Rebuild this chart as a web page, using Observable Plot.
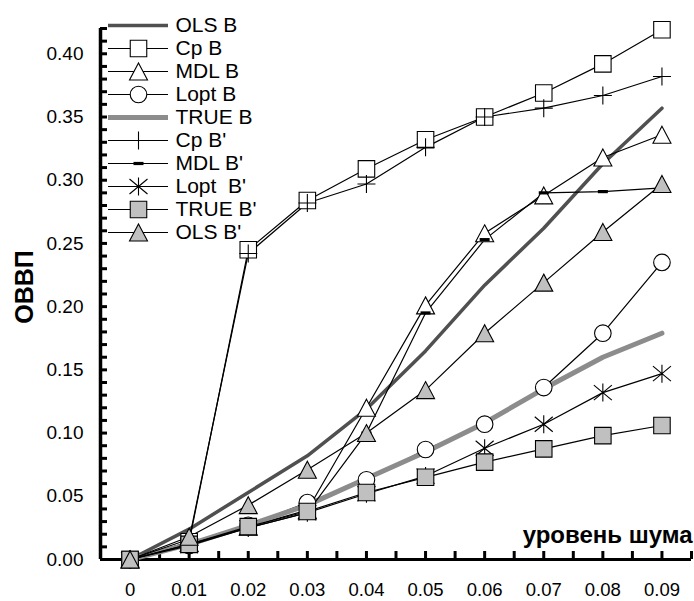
<!DOCTYPE html>
<html><head><meta charset="utf-8">
<script src="https://cdn.jsdelivr.net/npm/d3@7"></script>
<script src="https://cdn.jsdelivr.net/npm/@observablehq/plot@0.6"></script>
<style>
body{margin:0;background:#fff;}
#wrap{position:relative;width:694px;height:601px;}
#wrap svg{position:absolute;left:0;top:0;}
</style></head><body><div id="wrap"></div>
<script>
// ---- data ----
const noiseLevel = [0, 0.01, 0.02, 0.03, 0.04, 0.05, 0.06, 0.07, 0.08, 0.09];
const olsB   = [0, 0.024, 0.053, 0.082, 0.119, 0.165, 0.217, 0.262, 0.313, 0.357];
const cpB    = [0, 0.014, 0.245, 0.284, 0.309, 0.332, 0.350, 0.369, 0.392, 0.419];
const mdlB   = [0, 0.013, 0.026, 0.039, 0.120, 0.201, 0.258, 0.288, 0.318, 0.336];
const loptB  = [0, 0.011, 0.027, 0.045, 0.063, 0.087, 0.107, 0.136, 0.179, 0.235];
const trueB  = [0, 0.012, 0.027, 0.043, 0.064, 0.085, 0.108, 0.135, 0.160, 0.179];
const cpB2   = [0, 0.016, 0.242, 0.282, 0.297, 0.326, 0.350, 0.357, 0.367, 0.382];
const mdlB2  = [0, 0.012, 0.025, 0.037, 0.100, 0.195, 0.253, 0.290, 0.291, 0.294];
const loptB2 = [0, 0.011, 0.025, 0.037, 0.052, 0.066, 0.088, 0.107, 0.132, 0.147];
const trueB2 = [0, 0.012, 0.026, 0.038, 0.053, 0.065, 0.077, 0.0875, 0.098, 0.106];
const olsB2  = [0, 0.018, 0.043, 0.071, 0.100, 0.134, 0.179, 0.219, 0.259, 0.297];

const seriesNames = ["OLS B", "Cp B", "MDL B", "Lopt B", "TRUE B", "Cp B'", "MDL B'", "Lopt  B'", "TRUE B'", "OLS B'"];
const xLabelTicks = [0, 0.01, 0.02, 0.03, 0.04, 0.05, 0.06, 0.07, 0.08, 0.09];
const xMinorTicks = [0.005, 0.01, 0.015, 0.02, 0.025, 0.03, 0.035, 0.04, 0.045, 0.05, 0.055, 0.06, 0.065, 0.07, 0.075, 0.08, 0.085, 0.09, 0.095];
const yLabelTicks = [0, 0.05, 0.10, 0.15, 0.20, 0.25, 0.30, 0.35, 0.40];
const yMinorTicks = d3.range(1, 43).map(i => i / 100);
const xTitle = "уровень шума";
const yTitle = "ОВВП";

// ---- symbols ----
const symSquare = {draw(c){ const h = 8.25; c.moveTo(-h,-h); c.lineTo(h,-h); c.lineTo(h,h); c.lineTo(-h,h); c.closePath(); }};
const symCircle = {draw(c){ const r = 8.3; c.moveTo(r,0); c.arc(0,0,r,0,2*Math.PI); c.closePath(); }};
const symTriangle = {draw(c){ c.moveTo(0,-8.5); c.lineTo(9,8.5); c.lineTo(-9,8.5); c.closePath(); }};
const symPlus = {draw(c){ c.moveTo(-9,0); c.lineTo(9,0); c.moveTo(0,-9); c.lineTo(0,9); }};
const symStar = {draw(c){ c.moveTo(0,-9); c.lineTo(0,9); c.moveTo(-9,-7.5); c.lineTo(9,7.5); c.moveTo(-9,7.5); c.lineTo(9,-7.5); }};
const symDash = {draw(c){ c.moveTo(-5,-1.6); c.lineTo(5,-1.6); c.lineTo(5,1.6); c.lineTo(-5,1.6); c.closePath(); }};

const GRAY = "#c0c0c0";
const thin = {stroke: "black", strokeWidth: 1.2};
const series = [
  {name: seriesNames[0], values: olsB,   line: {stroke: "#505050", strokeWidth: 3.5}, sym: null},
  {name: seriesNames[1], values: cpB,    line: thin, sym: symSquare,   mk: {fill: "white", stroke: "black"}},
  {name: seriesNames[2], values: mdlB,   line: thin, sym: symTriangle, mk: {fill: "white", stroke: "black"}},
  {name: seriesNames[3], values: loptB,  line: thin, sym: symCircle,   mk: {fill: "white", stroke: "black"}},
  {name: seriesNames[4], values: trueB,  line: {stroke: "#8c8c8c", strokeWidth: 5}, sym: null},
  {name: seriesNames[5], values: cpB2,   line: thin, sym: symPlus,     mk: {fill: "none", stroke: "black"}},
  {name: seriesNames[6], values: mdlB2,  line: thin, sym: symDash,     mk: {fill: "black", stroke: "none"}},
  {name: seriesNames[7], values: loptB2, line: thin, sym: symStar,     mk: {fill: "none", stroke: "black"}},
  {name: seriesNames[8], values: trueB2, line: thin, sym: symSquare,   mk: {fill: GRAY, stroke: "black"}},
  {name: seriesNames[9], values: olsB2,  line: thin, sym: symTriangle, mk: {fill: GRAY, stroke: "black"}}
];
series.forEach(s => s.rows = noiseLevel.map((x, i) => ({x, y: s.values[i]})));

const font = "Arial, 'Liberation Sans', sans-serif";
const W = 694, H = 601, mL = 100, mR = 3, mT = 28, mB = 42;
const plotW = W - mL - mR, plotH = H - mT - mB;

const main = Plot.plot({
  width: W, height: H,
  marginLeft: mL, marginRight: mR, marginTop: mT, marginBottom: mB,
  style: {fontFamily: font, background: "white", color: "black", overflow: "visible"},
  x: {domain: [-0.005, 0.095]},
  y: {domain: [0, 0.42]},
  marks: [
    Plot.tickY(yMinorTicks, {y: d => d, insetRight: plotW - 7, strokeWidth: 3, stroke: "black"}),
    Plot.tickX(xMinorTicks, {x: d => d, insetTop: plotH - 8, strokeWidth: 3, stroke: "black"}),
    Plot.ruleX([-0.005], {strokeWidth: 3.5, stroke: "black"}),
    Plot.ruleY([0], {strokeWidth: 3, stroke: "black"}),
    Plot.axisY(yLabelTicks, {tickSize: 0, tickPadding: 17, tickFormat: d => d.toFixed(2), fontSize: 19, label: null}),
    Plot.axisX(xLabelTicks, {tickSize: 0, tickPadding: 23, tickFormat: d => d === 0 ? "0" : d.toFixed(2), fontSize: 18.5, label: null}),
    ...series.map(s => Plot.line(s.rows, {x: "x", y: "y", ...s.line, strokeLinejoin: "round"})),
    ...series.filter(s => s.sym).map(s => Plot.dot(s.rows, {x: "x", y: "y", symbol: s.sym, strokeWidth: 1.1, ...s.mk})),
    Plot.text([xTitle], {frameAnchor: "bottom-right", dx: 1, dy: -17, textAnchor: "end", lineAnchor: "bottom", fontSize: 24, fontWeight: "bold"}),
    Plot.text([yTitle], {frameAnchor: "left", dx: 24 - mL, dy: -7, rotate: -90, textAnchor: "middle", lineAnchor: "middle", fontSize: 25, fontWeight: "bold"})
  ]
});

const LW = 300;
const legend = Plot.plot({
  width: LW, height: 250,
  marginLeft: 108, marginRight: LW - 168, marginTop: 25, marginBottom: 18,
  style: {fontFamily: font, background: "transparent", color: "black", overflow: "visible"},
  x: {domain: [0, 1], axis: null},
  y: {type: "point", domain: seriesNames, padding: 0, axis: null},
  marks: [
    ...series.map(s => Plot.ruleY([s.name], {y: d => d, ...s.line})),
    ...series.filter(s => s.sym).map(s => Plot.dot([s.name], {y: d => d, frameAnchor: "middle", symbol: s.sym, strokeWidth: 1.1, ...s.mk})),
    Plot.text(seriesNames, {y: d => d, frameAnchor: "right", dx: 7, textAnchor: "start", fontSize: 21})
  ]
});

const wrap = document.getElementById("wrap");
wrap.appendChild(main);
wrap.appendChild(legend);
</script>
</body></html>
